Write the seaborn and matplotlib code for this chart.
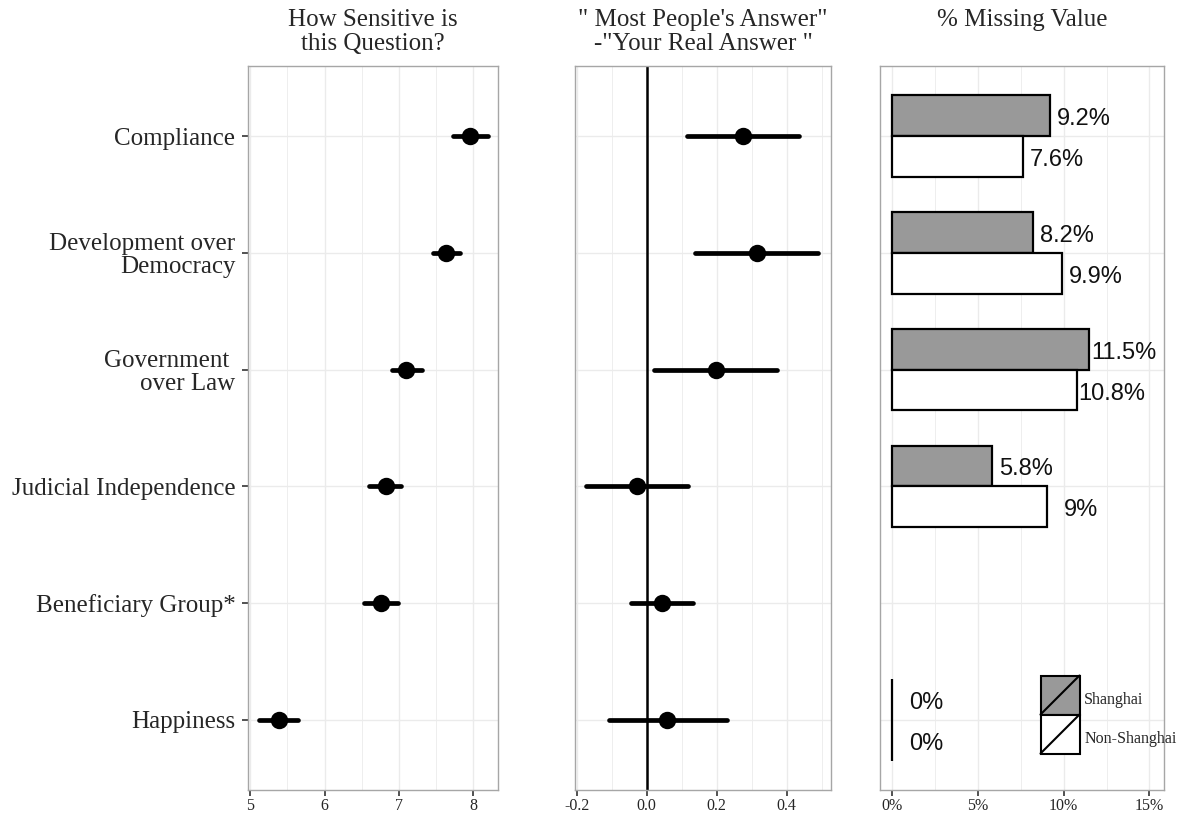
import numpy as np
import pandas as pd
import matplotlib
matplotlib.use("Agg")
import matplotlib.pyplot as plt
import seaborn as sns
from matplotlib.patches import Rectangle, Patch
from matplotlib.lines import Line2D
from matplotlib.legend_handler import HandlerBase
from matplotlib.ticker import MultipleLocator, FuncFormatter

# ---------------- data ----------------
items = ["Compliance", "Development over\nDemocracy", "Government \nover Law",
         "Judicial Independence", "Beneficiary Group*", "Happiness"]

# Panel 1: how sensitive is this question (point, lower, upper)
sens_pt = [7.95, 7.63, 7.10, 6.82, 6.76, 5.38]
sens_lo = [7.73, 7.45, 6.90, 6.60, 6.53, 5.12]
sens_hi = [8.19, 7.82, 7.31, 7.03, 6.98, 5.64]

# Panel 2: "Most people's answer" - "Your real answer"
diff_pt = [0.274, 0.316, 0.197, -0.029, 0.043, 0.059]
diff_lo = [0.116, 0.139, 0.021, -0.174, -0.046, -0.109]
diff_hi = [0.435, 0.491, 0.374, 0.117, 0.132, 0.229]

# Panel 3: % missing value
regions = ["Shanghai", "Non-Shanghai"]
miss_shanghai = [9.2, 8.2, 11.5, 5.8, np.nan, 0.0]
miss_nonshanghai = [7.6, 9.9, 10.8, 9.0, np.nan, 0.0]

titles = ["How Sensitive is\nthis Question?",
          "\" Most People's Answer\"\n-\"Your Real Answer \"",
          "% Missing Value"]

# ---------------- build tables ----------------
def interval_frame(pt, lo, hi):
    rows = []
    for it, p, l, h in zip(items, pt, lo, hi):
        for v in (l, p, h):
            rows.append({"item": it, "value": v})
    return pd.DataFrame(rows)

sens_df = interval_frame(sens_pt, sens_lo, sens_hi)
diff_df = interval_frame(diff_pt, diff_lo, diff_hi)
miss_df = pd.DataFrame({
    "item": items * 2,
    "region": [regions[0]] * len(items) + [regions[1]] * len(items),
    "pct": miss_shanghai + miss_nonshanghai,
})

# ---------------- style ----------------
sns.set_theme(style="white")
plt.rcParams["font.family"] = ["Liberation Serif", "DejaVu Serif"]
plt.rcParams["axes.unicode_minus"] = False

W, H = 1187, 819
fig = plt.figure(figsize=(W / 100, H / 100), dpi=100)

def px_axes(left, right, top, bottom):
    return fig.add_axes([left / W, 1 - bottom / H, (right - left) / W, (bottom - top) / H])

ax1 = px_axes(248, 498, 66, 790)
ax2 = px_axes(575, 831, 66, 790)
ax3 = px_axes(880, 1164, 66, 790)

grid_c = "#ebebeb"
border_c = "#a6a6a6"

point_kws = dict(y="item", x="value", order=items, estimator="median",
                 errorbar=("pi", 100), color="black", linestyle="none",
                 markers="o", markersize=10.5, err_kws={"linewidth": 3.4},
                 capsize=0)

sns.pointplot(data=sens_df, ax=ax1, **point_kws)
sns.pointplot(data=diff_df, ax=ax2, **point_kws)
ax2.axvline(0, color="black", lw=1.8, zorder=1)

sns.barplot(data=miss_df, x="pct", y="item", hue="region", order=items,
            hue_order=regions, palette={"Shanghai": "#999999", "Non-Shanghai": "white"},
            edgecolor="black", linewidth=1.6, width=0.7, errorbar=None,
            legend=False, ax=ax3, zorder=3)

for container in ax3.containers:
    for bar in container:
        w = bar.get_width()
        if np.isfinite(w):
            ax3.text(w + 2, bar.get_y() + bar.get_height() / 2 + 0.03, f"{w:g}%",
                     ha="center", va="center", fontsize=17,
                     family=["Liberation Sans", "DejaVu Sans"], color="#111111")

# axes formatting
ax1.set_xlim(4.97, 8.33)
ax1.xaxis.set_major_locator(MultipleLocator(1))
ax1.xaxis.set_minor_locator(MultipleLocator(0.5))

ax2.set_xlim(-0.205, 0.527)
ax2.xaxis.set_major_locator(MultipleLocator(0.2))
ax2.xaxis.set_minor_locator(MultipleLocator(0.1))
ax2.xaxis.set_major_formatter(FuncFormatter(lambda v, p: f"{v:.1f}"))

ax3.set_xlim(-0.72, 15.85)
ax3.xaxis.set_major_locator(MultipleLocator(5))
ax3.xaxis.set_minor_locator(MultipleLocator(2.5))
ax3.xaxis.set_major_formatter(FuncFormatter(lambda v, p: f"{v:g}%"))

for ax in (ax1, ax2, ax3):
    ax.set_ylim(5.6, -0.6)
    ax.set_xlabel("")
    ax.set_ylabel("")
    ax.set_axisbelow(True)
    ax.grid(True, which="major", axis="both", color=grid_c, lw=1.0, zorder=0)
    ax.grid(True, which="minor", axis="x", color=grid_c, lw=0.6, zorder=0)
    for s in ax.spines.values():
        s.set_visible(True)
        s.set_color(border_c)
        s.set_linewidth(1.0)
    ax.tick_params(axis="x", which="major", bottom=True, length=4, width=1.2,
                   color="#333333", labelsize=11.5, pad=2)
    ax.tick_params(axis="x", which="minor", bottom=False)

ax1.tick_params(axis="y", left=True, length=4, width=1.2, color="#333333",
                labelsize=18, pad=5)
for lab in ax1.get_yticklabels():
    lab.set_linespacing(1.04)
for ax in (ax2, ax3):
    ax.tick_params(axis="y", left=False, labelleft=False)

# titles
centers = [373, 703, 1022]
for c, t in zip(centers, titles):
    fig.text(c / W, 1 - 9 / H, t, ha="center", va="top", fontsize=18, linespacing=1.09)

# legend
class KeyHandler(HandlerBase):
    def create_artists(self, legend, orig_handle, xdescent, ydescent, width, height,
                       fontsize, trans):
        r = Rectangle((-xdescent, -ydescent), width, height,
                      facecolor=orig_handle.get_facecolor(), edgecolor="black",
                      lw=1.5, transform=trans)
        l = Line2D([-xdescent, -xdescent + width], [-ydescent, -ydescent + height],
                   color="black", lw=1.5, transform=trans)
        return [r, l]

handles = [Patch(facecolor="#999999", label=regions[0]),
           Patch(facecolor="white", label=regions[1])]
fs_px = 16.0
key_px = 39.0
hh = (key_px / fs_px - 0.245) / 0.65
leg = ax3.legend(handles=handles, labels=regions, handler_map={Patch: KeyHandler()},
                 loc="upper left", bbox_to_anchor=((1040.5 - 880) / 284, (790 - 675.5) / 724),
                 frameon=False, fontsize=fs_px * 0.72, handlelength=key_px / fs_px,
                 handleheight=hh, labelspacing=0, handletextpad=0.3, borderpad=0,
                 borderaxespad=0)
for t in leg.get_texts():
    t.set_family(["Liberation Serif", "DejaVu Serif"])
    t.set_va("center")

fig.savefig("out.png", dpi=100)
